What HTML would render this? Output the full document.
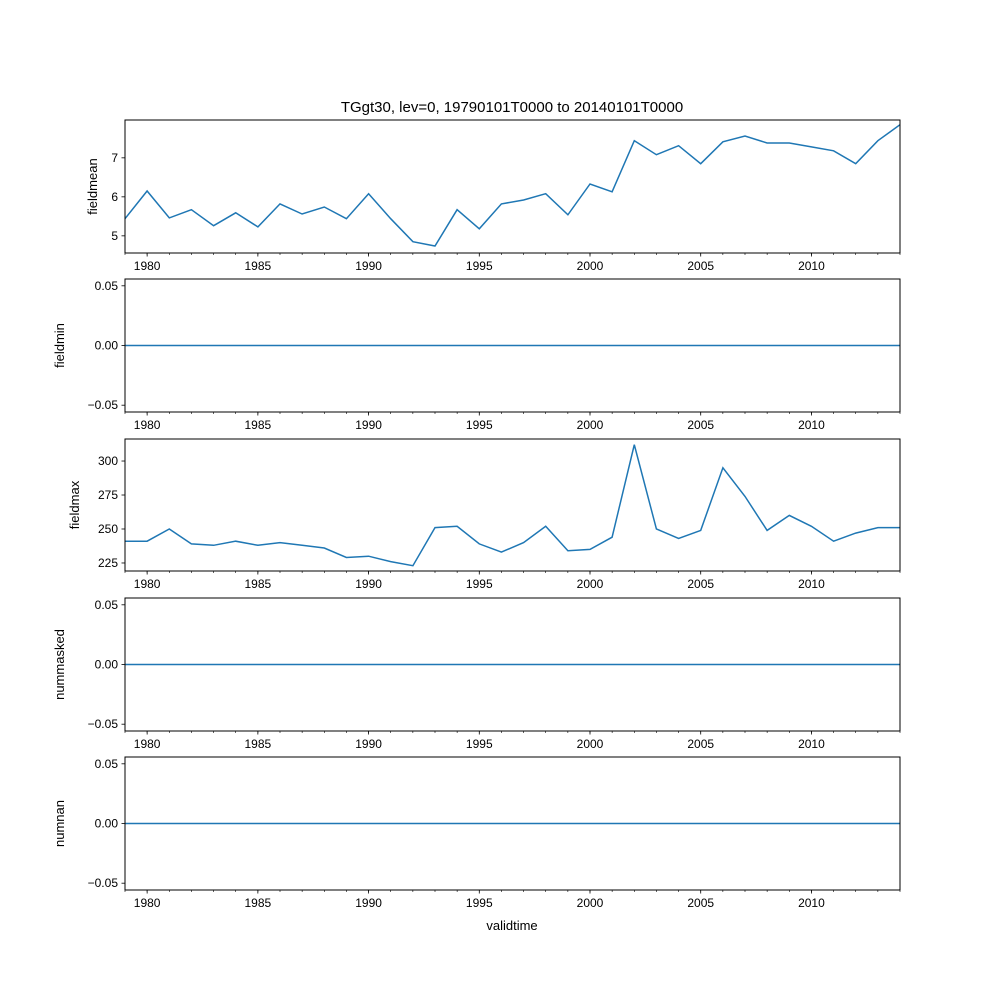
<!DOCTYPE html>
<html><head><meta charset="utf-8"><style>
body{margin:0;background:#fff}
svg{display:block;font-family:"Liberation Sans","DejaVu Sans",sans-serif}
</style></head><body>
<svg id="fig" width="1000" height="1000">
<text x="512" y="112" font-size="15" text-anchor="middle">TGgt30, lev=0, 19790101T0000 to 20140101T0000</text>
<text x="512" y="930" font-size="13" text-anchor="middle">validtime</text>
</svg>
<script>
const years = [1979,1980,1981,1982,1983,1984,1985,1986,1987,1988,1989,1990,1991,1992,1993,1994,1995,1996,1997,1998,1999,2000,2001,2002,2003,2004,2005,2006,2007,2008,2009,2010,2011,2012,2013,2014];
const fieldmean = [5.44,6.15,5.46,5.67,5.26,5.59,5.23,5.82,5.56,5.74,5.44,6.08,5.44,4.85,4.74,5.67,5.18,5.82,5.92,6.08,5.54,6.33,6.13,7.44,7.08,7.31,6.85,7.41,7.56,7.38,7.38,7.28,7.18,6.85,7.44,7.85];
const fieldmin = years.map(()=>0);
const fieldmax = [241,241,250,239,238,241,238,240,238,236,229,230,226,223,251,252,239,233,240,252,234,235,244,312,250,243,249,295,274,249,260,252,241,247,251,251];
const nummasked = years.map(()=>0);
const numnan = years.map(()=>0);
const xTicks = [1980,1985,1990,1995,2000,2005,2010];
const meanTicks = [5,6,7];
const zeroTicks = [-0.05,0,0.05];
const maxTicks = [225,250,275,300];

const NS="http://www.w3.org/2000/svg";
const svg=document.getElementById('fig');
const L=125,R=900;
const xs=v=>L+(v-1979)/(2014-1979)*(R-L);
function mk(tag,attrs,parent){const e=document.createElementNS(NS,tag);for(const k in attrs)e.setAttribute(k,attrs[k]);(parent||svg).appendChild(e);return e;}
const fz=v=>(v<0?'\u2212':'')+Math.abs(v).toFixed(2);
const panels=[
 {name:'fieldmean',data:fieldmean,top:120,bot:253,lo:4.56,hi:7.97,ticks:meanTicks,fmt:v=>String(v)},
 {name:'fieldmin',data:fieldmin,top:279,bot:412,lo:-0.0557,hi:0.0557,ticks:zeroTicks,fmt:fz},
 {name:'fieldmax',data:fieldmax,top:439,bot:571,lo:219.1,hi:316.2,ticks:maxTicks,fmt:v=>String(v)},
 {name:'nummasked',data:nummasked,top:598,bot:731,lo:-0.0557,hi:0.0557,ticks:zeroTicks,fmt:fz},
 {name:'numnan',data:numnan,top:757,bot:890,lo:-0.0557,hi:0.0557,ticks:zeroTicks,fmt:fz}
];
panels.forEach(p=>{
 const g=mk('g',{});
 
 
 const ys=v=>p.bot-(v-p.lo)/(p.hi-p.lo)*(p.bot-p.top);
 const pts=p.data.map((v,i)=>xs(years[i]).toFixed(1)+','+ys(v).toFixed(1)).join(' ');
 const line=mk('polyline',{points:pts,fill:'none',stroke:'#1f77b4','stroke-width':1.5},g);
 
 
 const frame=mk('rect',{x:L,y:p.top,width:R-L,height:p.bot-p.top,fill:'none',stroke:'#000','stroke-width':1},g);
 
 
 years.forEach(y=>{mk('line',{x1:xs(y),x2:xs(y),y1:p.bot,y2:p.bot+2,stroke:'#000','stroke-width':0.6},g);});
 xTicks.forEach(t=>{
  mk('line',{x1:xs(t),x2:xs(t),y1:p.bot,y2:p.bot+3.5,stroke:'#000','stroke-width':0.8},g);
  const tx=mk('text',{x:xs(t),y:p.bot+17,'font-size':12,'text-anchor':'middle'},g);
  tx.textContent=t;
  
  
 });
 p.ticks.forEach(t=>{
  const y=ys(t);
  mk('line',{x1:L-3.5,x2:L,y1:y,y2:y,stroke:'#000','stroke-width':0.8},g);
  const tx=mk('text',{x:L-7,y:y+4,'font-size':12,'text-anchor':'end'},g);
  tx.textContent=p.fmt(t);
  
  
 });
 const cy=(p.top+p.bot)/2;
 const lab=mk('text',{x:0,y:0,'font-size':13,'text-anchor':'middle',transform:`translate(${p.ticks[0]<0?64:p.name==='fieldmax'?79:97},${cy}) rotate(-90)`},g);
 lab.textContent=p.name;
 
 
});
</script>
</body></html>
